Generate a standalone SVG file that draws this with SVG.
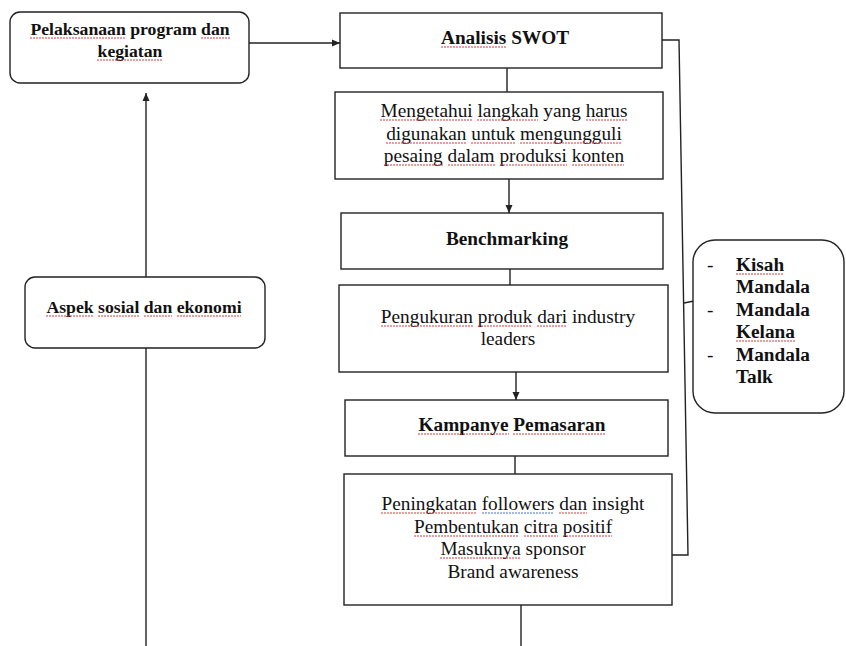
<svg xmlns="http://www.w3.org/2000/svg" width="846" height="646" viewBox="0 0 846 646">
<defs>
<style>
.box{fill:#fff;stroke:#222;stroke-width:1.4}
.ln{fill:none;stroke:#222;stroke-width:1.4}
.t{font-family:"Liberation Serif","Times New Roman",serif;font-size:19.3px;fill:#111;text-anchor:middle}
.s{font-size:17.7px}
.b{font-weight:bold}
.l{text-anchor:start}
.sq{fill:none;stroke:#d83a3a;stroke-width:1.2;stroke-dasharray:2 1}
.sqb{fill:none;stroke:#4a6fd0;stroke-width:1.2;stroke-dasharray:2 1}
</style>
<marker id="ah" markerWidth="10" markerHeight="10" refX="9" refY="5" orient="auto" markerUnits="userSpaceOnUse">
<path d="M1,1.5 L9,5 L1,8.5 Z" fill="#222"/>
</marker>
</defs>
<rect width="846" height="646" fill="#fff"/>
<g id="connectors">
<line class="ln" x1="249" y1="43" x2="340" y2="43" marker-end="url(#ah)"/>
<line class="ln" x1="146" y1="277" x2="146" y2="93" marker-end="url(#ah)"/>
<line class="ln" x1="146" y1="348" x2="146" y2="646"/>
<line class="ln" x1="507" y1="68" x2="507" y2="92"/>
<line class="ln" x1="509" y1="179" x2="509" y2="213" marker-end="url(#ah)"/>
<line class="ln" x1="510" y1="269" x2="510" y2="285"/>
<line class="ln" x1="516" y1="372" x2="516" y2="400" marker-end="url(#ah)"/>
<line class="ln" x1="515" y1="456" x2="515" y2="474"/>
<line class="ln" x1="521" y1="605" x2="521" y2="646"/>
<polyline class="ln" points="662,40 679,40 688,555 672,555"/>
<line class="ln" x1="684" y1="303" x2="694" y2="301"/>
</g>
<g id="pelaksanaan">
<rect class="box" x="10" y="12" width="239" height="71" rx="10"/>
<text class="t s b" x="130" y="35">Pelaksanaan program dan</text>
<text class="t s b" x="130" y="57">kegiatan</text>
<path class="sq" d="M30,38H126M201,38H230M97,60H162"/>
</g>
<g id="aspek">
<rect class="box" x="25" y="277" width="240" height="71" rx="10"/>
<text class="t s b" x="144" y="313">Aspek sosial dan ekonomi</text>
<path class="sq" d="M46,316H94M98,316H139M144,316H172M177,316H241"/>
</g>
<g id="swot">
<rect class="box" x="340" y="13" width="322" height="55"/>
<text class="t b" x="505" y="44">Analisis SWOT</text>
<path class="sq" d="M441,47H506"/>
</g>
<g id="mengetahui">
<rect class="box" x="335" y="92" width="328" height="87"/>
<text class="t" x="504" y="117">Mengetahui langkah yang harus</text>
<text class="t" x="504" y="140">digunakan untuk mengungguli</text>
<text class="t" x="504" y="162">pesaing dalam produksi konten</text>
<path class="sq" d="M380,120H473M477,120H538M586,120H627M386,143H466M471,143H515M520,143H622M384,165H443M448,165H495M500,165H567M572,165H624"/>
</g>
<g id="benchmarking">
<rect class="box" x="341" y="213" width="322" height="56"/>
<text class="t b" x="507" y="245">Benchmarking</text>
</g>
<g id="pengukuran">
<rect class="box" x="339" y="285" width="329" height="87"/>
<text class="t" x="508" y="323">Pengukuran produk dari industry</text>
<text class="t" x="508" y="345">leaders</text>
<path class="sq" d="M381,326H473M478,326H532M537,326H567"/>
</g>
<g id="kampanye">
<rect class="box" x="345" y="400" width="323" height="56"/>
<text class="t b" x="512" y="431">Kampanye Pemasaran</text>
<path class="sq" d="M418,434H509M513,434H606"/>
</g>
<g id="peningkatan">
<rect class="box" x="344" y="474" width="328" height="131"/>
<text class="t" x="513" y="510">Peningkatan followers dan insight</text>
<text class="t" x="513" y="533">Pembentukan citra positif</text>
<text class="t" x="513" y="555">Masuknya sponsor</text>
<text class="t" x="513" y="578">Brand awareness</text>
<path class="sq" d="M381,513H477M559,513H587M414,536H519M524,536H558M563,536H612M440,558H521"/>
<path class="sqb" d="M482,513H554"/>
</g>
<g id="program-list">
<rect class="box" x="693" y="240" width="151" height="173" rx="22"/>
<text class="t l" x="707" y="271">-</text>
<text class="t b l" x="736" y="271">Kisah</text>
<text class="t b l" x="736" y="293">Mandala</text>
<text class="t l" x="707" y="316">-</text>
<text class="t b l" x="736" y="316">Mandala</text>
<text class="t b l" x="736" y="338">Kelana</text>
<text class="t l" x="707" y="361">-</text>
<text class="t b l" x="736" y="361">Mandala</text>
<text class="t b l" x="736" y="383">Talk</text>
<path class="sq" d="M736,274H784M736,341H795"/>
</g>
</svg>
